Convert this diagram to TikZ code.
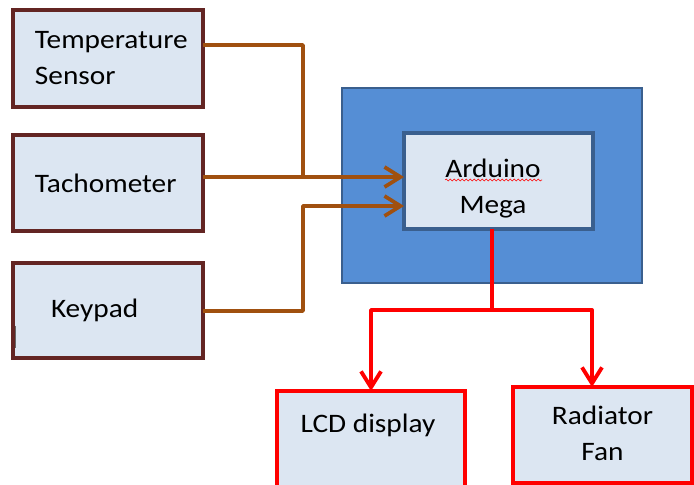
\documentclass[tikz,border=0pt]{standalone}
\usepackage{fontspec}
\setmainfont{Carlito}[FakeStretch=1.1]
\usetikzlibrary{arrows.meta,decorations.pathmorphing}
\definecolor{boxfill}{HTML}{DCE6F2}
\definecolor{boxdraw}{HTML}{632523}
\definecolor{brownline}{HTML}{A0500F}
\definecolor{bluefill}{HTML}{558ED5}
\definecolor{bluedraw}{HTML}{3A5F8E}
\definecolor{redline}{HTML}{FF0000}
\tikzset{
  inbox/.style={draw=boxdraw, fill=boxfill, line width=2.6pt, inner sep=0pt, outer sep=0pt,
    font=\fontsize{20}{27}\selectfont, align=left},
  outbox/.style={draw=redline, fill=boxfill, line width=2.6pt, inner sep=0pt, outer sep=0pt,
    font=\fontsize{20}{27}\selectfont, align=center},
  lbl/.style={inner sep=0pt, font=\fontsize{20}{27}\selectfont, align=center},
  brownarrow/.style={draw=brownline, line width=2.8pt, line join=round,
    -{Straight Barb[length=12pt,width=15pt]}},
  brownwire/.style={draw=brownline, line width=2.8pt, line join=round},
  redarrow/.style={draw=redline, line width=2.9pt, line join=round,
    -{Straight Barb[length=12pt,width=15pt]}},
  redwire/.style={draw=redline, line width=2.9pt, line join=round},
}
\begin{document}
\begin{tikzpicture}[x=0.75pt,y=-0.75pt]
\useasboundingbox (0,0) rectangle (694,485);
\clip (0,0) rectangle (694,485);
% input boxes
\node[inbox, minimum width=190*0.75pt, minimum height=97*0.75pt, text width=146*0.75pt] (temp) at (108,58.5)
  {\raisebox{-2pt}{Temperature}\\\raisebox{-2pt}{Sensor}};
\node[inbox, minimum width=190*0.75pt, minimum height=96*0.75pt, text width=146*0.75pt] (tach) at (108,183)
  {Tachometer};
\node[inbox, minimum width=190*0.75pt, minimum height=95*0.75pt, text width=114*0.75pt] (kp) at (108,310.5)
  {Keypad};
% controller
\node[draw=bluedraw, fill=bluefill, line width=2pt, minimum width=300*0.75pt, minimum height=195*0.75pt,
  inner sep=0pt] (outer) at (492,185.5) {};
\node[draw=bluedraw, fill=boxfill, line width=2.6pt, minimum width=189*0.75pt, minimum height=96*0.75pt,
  inner sep=0pt, outer sep=0pt] (mcu) at (498.5,181) {};
\node[lbl] (mcutext) at (493,189) {Arduino\\Mega};
% outputs
\node[outbox, minimum width=188*0.75pt, minimum height=140*0.75pt] (lcd) at (371,461) {};
\node[lbl] (lcdtext) at (368,425) {LCD display};
\node[outbox, minimum width=179*0.75pt, minimum height=96*0.75pt] (fan) at (602.5,435) {\raisebox{2pt}{Radiator}\\\raisebox{2pt}{Fan}};
% spell-check squiggle
\coordinate (sq1) at (445,180);
\coordinate (sq2) at (542,180);
\draw[redline, line width=0.4pt, decorate, decoration={snake, amplitude=0.7pt, segment length=3pt}] (sq1) -- (sq2);
% cursor mark
\coordinate (cm1) at (15,326);
\coordinate (cm2) at (15,348);
\draw[black!60, line width=0.6pt] (cm1) -- (cm2);
% wiring
\coordinate (ja) at (303,45);
\coordinate (jb) at (303,177);
\coordinate (in1) at (404,177);
\coordinate (in2) at (404,206);
\coordinate (jc) at (303,311);
\coordinate (jd) at (303,206);
\draw[brownwire] (temp.east |- ja) -- (ja) -- (jb);
\draw[brownarrow] (tach.east |- in1) -- (in1);
\draw[brownarrow] (kp.east |- jc) -- (jc) -- (jd) -- (in2);
\coordinate (r0) at (492,229);
\coordinate (r1) at (492,310);
\coordinate (rl) at (371,310);
\coordinate (rr) at (592,310);
\draw[redwire] (mcu.south -| r0) -- (r1);
\draw[redarrow] (r1) -- (rl) -- (rl |- lcd.north);
\draw[redarrow] (r1) -- (rr) -- (rr |- fan.north);
\end{tikzpicture}
\end{document}
